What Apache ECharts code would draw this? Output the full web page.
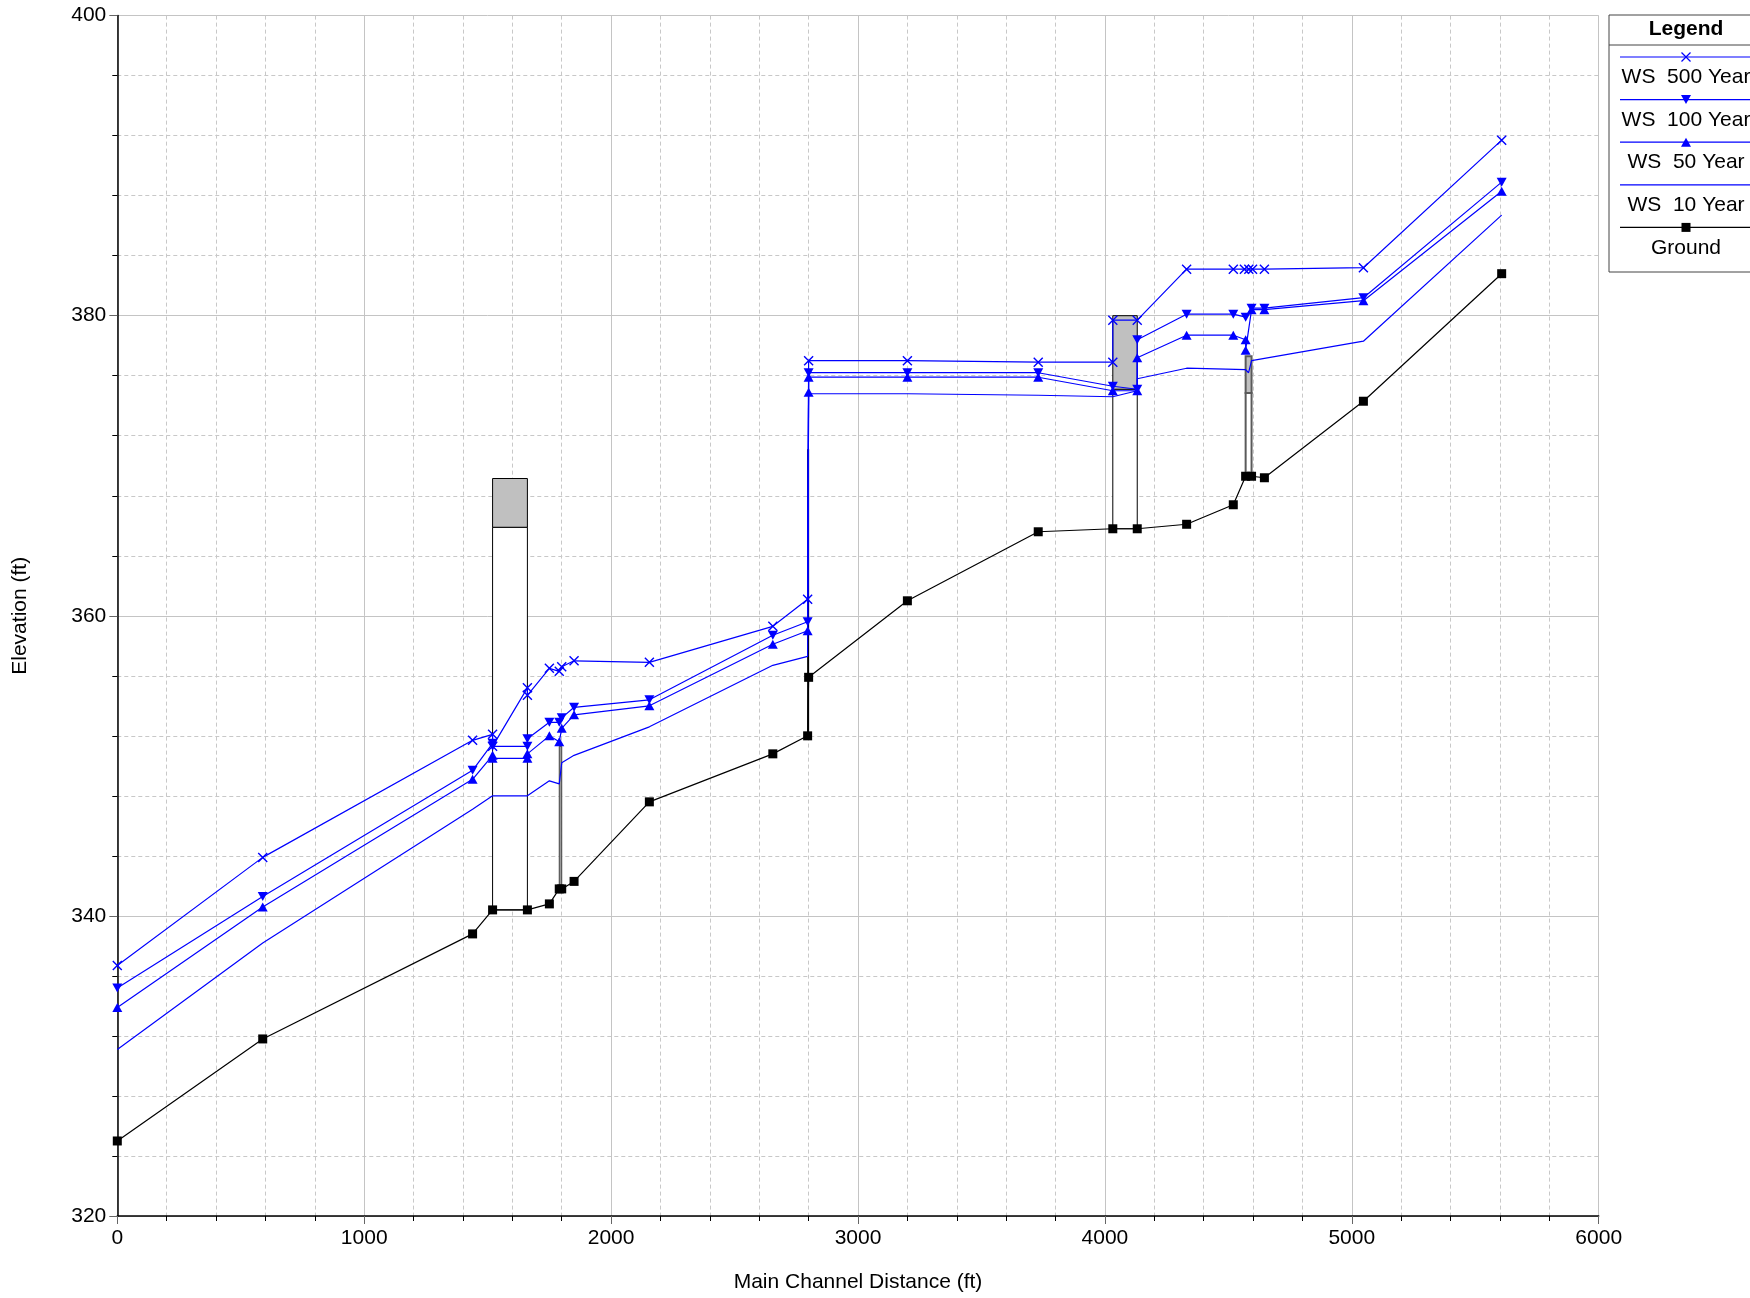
<!DOCTYPE html>
<html><head><meta charset="utf-8">
<script src="https://cdn.jsdelivr.net/npm/echarts@6/dist/echarts.min.js"></script>
<style>html,body{margin:0;padding:0;background:#fff}#chart{width:1750px;height:1298px}</style>
</head><body><div id="chart"></div>
<script>
// ---- data ----
const groundX = [0, 589, 1439, 1520, 1661, 1750, 1790, 1800, 1850, 2155, 2655, 2796, 2800, 3200, 3730, 4032, 4131, 4331, 4520, 4570, 4594, 4646, 5047, 5607];
const groundY = [325.0, 331.8, 338.8, 340.4, 340.4, 340.8, 341.8, 341.8, 342.3, 347.6, 350.8, 352.0, 355.9, 361.0, 365.6, 365.8, 365.8, 366.1, 367.4, 369.3, 369.3, 369.2, 374.3, 382.8];

const ws500X = [0, 589, 1439, 1520, 1520, 1661, 1661, 1750, 1790, 1800, 1850, 2155, 2655, 2796, 2800, 3200, 3730, 4032, 4032, 4131, 4331, 4520, 4565, 4583, 4598, 4646, 5047, 5607];
const ws500Y = [336.7, 343.9, 351.7, 352.1, 351.3, 355.2, 354.7, 356.5, 356.3, 356.6, 357.0, 356.9, 359.3, 361.1, 377.0, 377.0, 376.9, 376.9, 379.7, 379.7, 383.1, 383.1, 383.1, 383.1, 383.1, 383.1, 383.2, 391.7];

const ws100X = [0, 589, 1439, 1520, 1520, 1661, 1661, 1750, 1790, 1800, 1850, 2155, 2655, 2796, 2800, 3200, 3730, 4032, 4131, 4131, 4331, 4520, 4570, 4594, 4646, 5047, 5607];
const ws100Y = [335.2, 341.3, 349.7, 351.5, 351.3, 351.3, 351.8, 352.9, 352.9, 353.2, 353.9, 354.4, 358.7, 359.6, 376.2, 376.2, 376.2, 375.3, 375.1, 378.4, 380.1, 380.1, 379.9, 380.5, 380.5, 381.2, 388.9];

const ws50X = [0, 589, 1439, 1520, 1520, 1661, 1661, 1750, 1790, 1800, 1850, 2155, 2655, 2796, 2800, 2800, 3200, 3730, 4032, 4131, 4131, 4331, 4520, 4570, 4570, 4594, 4646, 5047, 5607];
const ws50Y = [333.9, 340.6, 349.1, 350.7, 350.5, 350.5, 350.8, 352.0, 351.6, 352.5, 353.4, 354.0, 358.1, 359.0, 374.9, 375.9, 375.9, 375.9, 375.0, 375.0, 377.2, 378.7, 378.7, 378.4, 377.7, 380.4, 380.4, 381.0, 388.3];

const ws10X = [0, 589, 1439, 1520, 1661, 1750, 1790, 1800, 1850, 2155, 2655, 2796, 2800, 3200, 3730, 4032, 4131, 4131, 4331, 4570, 4582, 4594, 5047, 5607];
const ws10Y = [331.1, 338.2, 347.1, 348.0, 348.0, 349.0, 348.8, 350.2, 350.7, 352.6, 356.7, 357.3, 374.8, 374.8, 374.7, 374.6, 375.0, 375.8, 376.5, 376.4, 376.2, 377.0, 378.3, 386.7];

// structures: left station, right station, ground, low chord, top, kind
const structLeft   = [1520, 1790, 2798, 4032, 4570];
const structRight  = [1661, 1800, 2798, 4131, 4594];
const structGround = [340.4, 341.8, 352.0, 365.8, 369.3];
const structLow    = [365.9, 341.8, 352.0, 375.1, 374.85];
const structTop    = [369.15, 351.3, 371.1, 380.0, 377.3];
const structKind   = [0, 2, 3, 0, 1];

const xTicks = [0, 1000, 2000, 3000, 4000, 5000, 6000];
const yTicks = [320, 340, 360, 380, 400];
const legendLabels = ['WS  500 Year', 'WS  100 Year', 'WS  50 Year', 'WS  10 Year', 'Ground'];

// ---- helpers ----
const zip = (xs, ys) => xs.map((x, i) => [x, ys[i]]);
const CROSS = 'path://M0,1 L1,0 L10,9 L9,10 Z M9,0 L10,1 L1,10 L0,9 Z';
const BLUE = '#0000ff';
const FONT = 'Liberation Sans, Arial, sans-serif';
const FS = 21;

const structData = structLeft.map((l, i) => [l, structRight[i], structGround[i], structLow[i], structTop[i], structKind[i]]);

function renderStruct(params, api) {
  const x1 = api.value(0), x2 = api.value(1), g = api.value(2), lo = api.value(3), top = api.value(4), kind = api.value(5);
  const a = api.coord([x1, top]), b = api.coord([x2, lo]), c = api.coord([x2, g]);
  const children = [];
  if (kind === 3) {
    children.push({type: 'line', shape: {x1: a[0], y1: c[1], x2: a[0], y2: a[1]}, style: {stroke: '#000', lineWidth: 2}});
  } else if (kind === 2) {
    children.push({type: 'rect', shape: {x: a[0], y: a[1], width: c[0] - a[0], height: c[1] - a[1]}, style: {fill: '#9a9a9a', stroke: '#444', lineWidth: 1}});
  } else {
    const stroke = kind === 1 ? '#5a5a5a' : '#000';
    const lw = kind === 1 ? 2 : 1;
    children.push({type: 'rect', shape: {x: a[0], y: b[1], width: c[0] - a[0], height: c[1] - b[1]}, style: {fill: '#fff', stroke: stroke, lineWidth: lw}});
    children.push({type: 'rect', shape: {x: a[0], y: a[1], width: b[0] - a[0], height: b[1] - a[1]}, style: {fill: '#c0c0c0', stroke: stroke, lineWidth: lw}});
  }
  return {type: 'group', children: children};
}

function wsSeries(name, xs, ys, symbol, size, rotate) {
  return {
    name: name, type: 'line', data: zip(xs, ys), z: 3,
    symbol: symbol, symbolSize: size, symbolRotate: rotate || 0, showSymbol: symbol !== 'none',
    lineStyle: {color: BLUE, width: 1.2}, itemStyle: {color: BLUE}, emphasis: {disabled: true}
  };
}

// ---- legend (drawn) ----
const LX = 1609, LY = 15, rowH = 42.6, cx = 1686;
const legendGraphic = [
  {type: 'rect', shape: {x: LX, y: LY, width: 200, height: 257}, style: {fill: '#fff', stroke: '#444', lineWidth: 1}, z: 10},
  {type: 'text', x: cx, y: 29, style: {text: 'Legend', font: 'bold ' + FS + 'px ' + FONT, fill: '#000', align: 'center', verticalAlign: 'middle'}, z: 11},
  {type: 'line', shape: {x1: LX, y1: 45, x2: 1760, y2: 45}, style: {stroke: '#444', lineWidth: 1}, z: 11}
];
function legSym(i, ly) {
  if (i === 0) return [
    {type: 'line', shape: {x1: cx - 4.5, y1: ly - 4.5, x2: cx + 4.5, y2: ly + 4.5}, style: {stroke: BLUE, lineWidth: 1.3}, z: 12},
    {type: 'line', shape: {x1: cx - 4.5, y1: ly + 4.5, x2: cx + 4.5, y2: ly - 4.5}, style: {stroke: BLUE, lineWidth: 1.3}, z: 12}];
  if (i === 1) return [{type: 'polygon', shape: {points: [[cx - 5, ly - 4.5], [cx + 5, ly - 4.5], [cx, ly + 4.5]]}, style: {fill: BLUE}, z: 12}];
  if (i === 2) return [{type: 'polygon', shape: {points: [[cx - 5, ly + 4.5], [cx + 5, ly + 4.5], [cx, ly - 4.5]]}, style: {fill: BLUE}, z: 12}];
  if (i === 4) return [{type: 'rect', shape: {x: cx - 4.5, y: ly - 4.5, width: 9, height: 9}, style: {fill: '#000'}, z: 12}];
  return [];
}
legendLabels.forEach((lab, i) => {
  const ly = 57 + rowH * i;
  const col = i === 4 ? '#000' : BLUE;
  legendGraphic.push({type: 'line', shape: {x1: 1620, y1: ly, x2: 1760, y2: ly}, style: {stroke: col, lineWidth: 1.2}, z: 11});
  legSym(i, ly).forEach(s => legendGraphic.push(s));
  legendGraphic.push({type: 'text', x: cx, y: ly + 20.5, style: {text: lab, font: FS + 'px ' + FONT, fill: '#000', align: 'center', verticalAlign: 'middle'}, z: 11});
});

const chart = echarts.init(document.getElementById('chart'), null, {renderer: 'canvas'});
const gridLine = {color: '#c4c4c4', width: 1};
const minorLine = {color: '#c8c8c8', width: 1, type: [4, 3]};
const plain = v => String(v);
chart.setOption({
  animation: false,
  backgroundColor: '#fff',
  textStyle: {fontFamily: FONT},
  grid: {left: 117.3, top: 15.6, right: 151.3, bottom: 80.4, containLabel: false},
  xAxis: {
    type: 'value', min: xTicks[0], max: xTicks[xTicks.length - 1], interval: xTicks[1] - xTicks[0],
    axisLine: {show: true, onZero: false, lineStyle: {color: '#000', width: 1.5}},
    axisTick: {show: true, length: 8, lineStyle: {color: '#666'}},
    minorTick: {show: true, splitNumber: 5, length: 5, lineStyle: {color: '#000'}},
    splitLine: {show: true, lineStyle: gridLine},
    minorSplitLine: {show: true, lineStyle: minorLine},
    axisLabel: {fontSize: FS, color: '#000', margin: 12, fontFamily: FONT, formatter: plain},
    name: 'Main Channel Distance (ft)', nameLocation: 'middle', nameGap: 56,
    nameTextStyle: {fontSize: FS, color: '#000', fontFamily: FONT}
  },
  yAxis: {
    type: 'value', min: yTicks[0], max: yTicks[yTicks.length - 1], interval: yTicks[1] - yTicks[0],
    axisLine: {show: true, onZero: false, lineStyle: {color: '#000', width: 1.5}},
    axisTick: {show: true, length: 8, lineStyle: {color: '#666'}},
    minorTick: {show: true, splitNumber: 5, length: 5, lineStyle: {color: '#000'}},
    splitLine: {show: true, lineStyle: gridLine},
    minorSplitLine: {show: true, lineStyle: minorLine},
    axisLabel: {fontSize: FS, color: '#000', margin: 11, fontFamily: FONT, formatter: plain},
    name: 'Elevation (ft)', nameLocation: 'middle', nameGap: 87,
    nameTextStyle: {fontSize: FS, color: '#000', fontFamily: FONT}
  },
  series: [
    {type: 'custom', name: 'Structures', renderItem: renderStruct, data: structData, z: 1,
     encode: {x: [0, 1], y: [2, 4]}, clip: true, silent: true},
    {name: 'Ground', type: 'line', data: zip(groundX, groundY), z: 2, symbol: 'rect', symbolSize: 9,
     lineStyle: {color: '#000', width: 1.2}, itemStyle: {color: '#000'}},
    wsSeries('WS  500 Year', ws500X, ws500Y, CROSS, 10, 0),
    wsSeries('WS  100 Year', ws100X, ws100Y, 'triangle', [10, 9], 180),
    wsSeries('WS  50 Year', ws50X, ws50Y, 'triangle', [10, 9], 0),
    wsSeries('WS  10 Year', ws10X, ws10Y, 'none', 0, 0)
  ],
  graphic: legendGraphic
});
</script>
</body></html>
